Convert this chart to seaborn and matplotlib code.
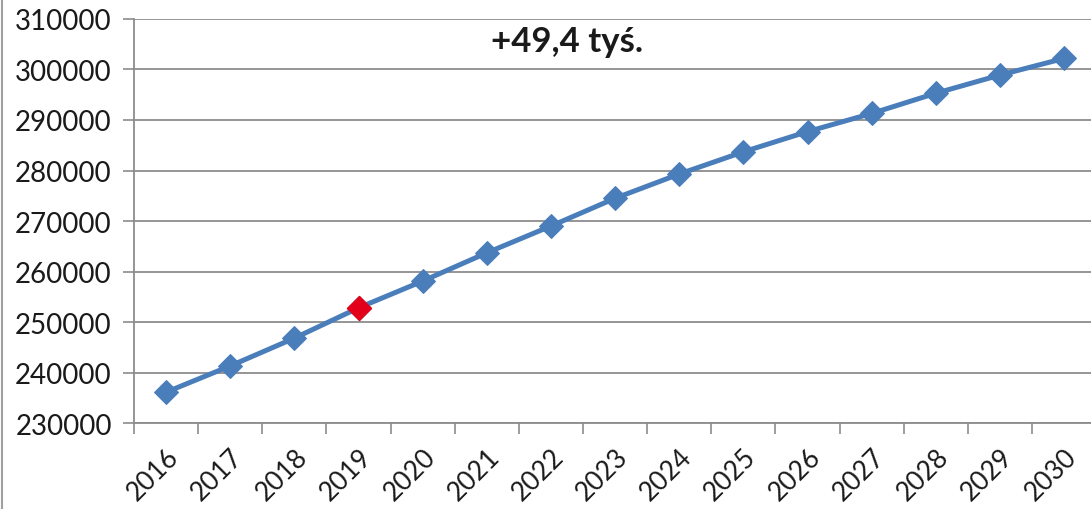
import matplotlib
matplotlib.use('Agg')
import matplotlib.pyplot as plt
from matplotlib.lines import Line2D
import seaborn as sns
import pandas as pd

# values
years = ['2016', '2017', '2018', '2019', '2020', '2021', '2022', '2023',
         '2024', '2025', '2026', '2027', '2028', '2029', '2030']
values = [236100, 241300, 246800, 252800, 258100, 263700, 269000, 274500,
          279300, 283700, 287700, 291300, 295300, 298900, 302200]
highlight_year = '2019'
annotation = '+49,4 tyś.'
y_ticks = [230000, 240000, 250000, 260000, 270000, 280000, 290000, 300000, 310000]

sns.set_style('white')
plt.rcParams['font.family'] = ['Lato', 'DejaVu Sans']

df = pd.DataFrame({'year': years, 'value': values})
hl = df[df['year'] == highlight_year]

fig = plt.figure(figsize=(10.91, 5.10), dpi=100)
ax = fig.add_axes([0.1228, 0.1686, 0.882, 0.7922])

blue = '#4a7ebb'
sns.lineplot(data=df, x='year', y='value', ax=ax, color=blue, linewidth=3.6,
             marker='D', markersize=12, markeredgecolor=blue, zorder=3)
sns.scatterplot(data=hl, x='year', y='value', ax=ax, color='#e3001b', marker='D',
                s=150, edgecolor='#e3001b', zorder=4)

ax.set_xlim(-0.5, len(years) - 0.5)
ax.set_ylim(y_ticks[0], y_ticks[-1])
ax.set_yticks(y_ticks)
ax.set_yticklabels([str(v) for v in y_ticks], fontsize=20, color='#1a1a1a')
ax.yaxis.grid(True, color='#8c8c8c', linewidth=1.3)
ax.set_axisbelow(True)

# ticks between categories, labels at centers
ax.set_xticks([i - 0.5 for i in range(len(years) + 1)])
ax.set_xticklabels([])
ax.set_xticks(range(len(years)), minor=True)
ax.set_xticklabels(years, minor=True, rotation=45, ha='right',
                   rotation_mode='anchor', fontsize=19, color='#1a1a1a')
ax.tick_params(axis='x', which='major', length=8, width=1.2, color='#8c8c8c', direction='out')
ax.tick_params(axis='x', which='minor', length=0, pad=15)
ax.tick_params(axis='y', length=8, width=1.2, color='#8c8c8c', direction='out', pad=8)
ax.xaxis.set_ticks_position('bottom')
ax.yaxis.set_ticks_position('left')

for side in ['top', 'right']:
    ax.spines[side].set_visible(False)
for side in ['left', 'bottom']:
    ax.spines[side].set_color('#8c8c8c')
    ax.spines[side].set_linewidth(1.3)

ax.set_xlabel('')
ax.set_ylabel('')
if ax.get_legend():
    ax.get_legend().remove()

ax.text(0.450, 0.945, annotation, transform=ax.transAxes, ha='center', va='center',
        fontsize=25, fontweight='bold', color='#1a1a1a')

# left frame edge of the original chart box
fig.add_artist(Line2D([0.002, 0.002], [0, 1], color='#a0a0a0', linewidth=1.5,
                      transform=fig.transFigure))

fig.savefig('out.png', dpi=100, facecolor='white')
